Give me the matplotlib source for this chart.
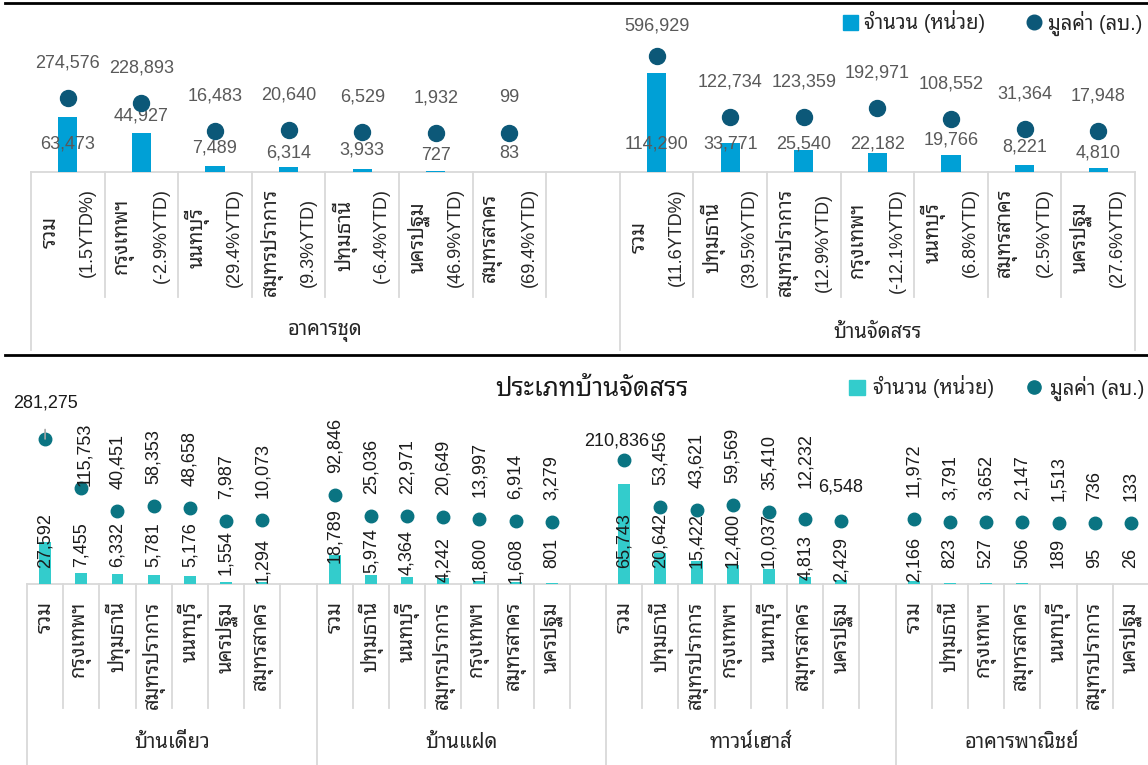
import matplotlib
matplotlib.use("Agg")
import matplotlib.pyplot as plt
from matplotlib.lines import Line2D
from matplotlib.patches import Patch

plt.rcParams["font.family"] = ["Liberation Sans", "Noto Sans Thai Looped"]

W, H = 1148, 765
PT = 0.72  # points per pixel at 100 dpi

# ---- top panel: condominiums vs housing estates ----
CONDO_NAME = "อาคารชุด"
CONDO_CATS = ["รวม", "กรุงเทพฯ", "นนทบุรี", "สมุทรปราการ", "ปทุมธานี", "นครปฐม", "สมุทรสาคร"]
CONDO_YTD = ["(1.5YTD%)", "(-2.9%YTD)", "(29.4%YTD)", "(9.3%YTD)", "(-6.4%YTD)",
             "(46.9%YTD)", "(69.4%YTD)"]
CONDO_UNITS = [63473, 44927, 7489, 6314, 3933, 727, 83]
CONDO_VALUE = [274576, 228893, 16483, 20640, 6529, 1932, 99]

HOUSING_NAME = "บ้านจัดสรร"
HOUSING_CATS = ["รวม", "ปทุมธานี", "สมุทรปราการ", "กรุงเทพฯ", "นนทบุรี", "สมุทรสาคร", "นครปฐม"]
HOUSING_YTD = ["(11.6YTD%)", "(39.5%YTD)", "(12.9%YTD)", "(-12.1%YTD)", "(6.8%YTD)",
               "(2.5%YTD)", "(27.6%YTD)"]
HOUSING_UNITS = [114290, 33771, 25540, 22182, 19766, 8221, 4810]
HOUSING_VALUE = [596929, 122734, 123359, 192971, 108552, 31364, 17948]

# ---- bottom panel: housing estate by type ----
DETACHED_NAME = "บ้านเดี่ยว"
DETACHED_CATS = ["รวม", "กรุงเทพฯ", "ปทุมธานี", "สมุทรปราการ", "นนทบุรี", "นครปฐม", "สมุทรสาคร"]
DETACHED_UNITS = [27592, 7455, 6332, 5781, 5176, 1554, 1294]
DETACHED_VALUE = [281275, 115753, 40451, 58353, 48658, 7987, 10073]

SEMI_NAME = "บ้านแฝด"
SEMI_CATS = ["รวม", "ปทุมธานี", "นนทบุรี", "สมุทรปราการ", "กรุงเทพฯ", "สมุทรสาคร", "นครปฐม"]
SEMI_UNITS = [18789, 5974, 4364, 4242, 1800, 1608, 801]
SEMI_VALUE = [92846, 25036, 22971, 20649, 13997, 6914, 3279]

TOWN_NAME = "ทาวน์เฮาส์"
TOWN_CATS = ["รวม", "ปทุมธานี", "สมุทรปราการ", "กรุงเทพฯ", "นนทบุรี", "สมุทรสาคร", "นครปฐม"]
TOWN_UNITS = [65743, 20642, 15422, 12400, 10037, 4813, 2429]
TOWN_VALUE = [210836, 53456, 43621, 59569, 35410, 12232, 6548]

SHOP_NAME = "อาคารพาณิชย์"
SHOP_CATS = ["รวม", "ปทุมธานี", "กรุงเทพฯ", "สมุทรสาคร", "นนทบุรี", "สมุทรปราการ", "นครปฐม"]
SHOP_UNITS = [2166, 823, 527, 506, 189, 95, 26]
SHOP_VALUE = [11972, 3791, 3652, 2147, 1513, 736, 133]

UNITS_LABEL = "จำนวน (หน่วย)"
VALUE_LABEL = "มูลค่า (ลบ.)"
BOTTOM_TITLE = "ประเภทบ้านจัดสรร"

# label placement (pixels)
TOP_UNIT_LIFT = [[28, 56, 24, 19, 22, 16, 19], [28, 28, 28, 28, 32, 25, 19]]
TOP_VALUE_GAP = [[35] * 7, [30, 35, 35, 35, 35, 35, 35]]
BOTTOM_UNIT_LIFT = [[16, 17, 17, 17, 17, 9, 1], [21, 11, 9, 2, 2, 1, 16],
                    [16, 16, 16, 16, 16, 4, 2], [2, 16, 16, 16, 16, 16, 16]]
# (group, index) -> (flat?, dx, dy, leader)
BOTTOM_VALUE_TWEAKS = {
    (0, 0): (True, 0, 36, True),
    (0, 1): (False, 3, 2, False),
    (2, 0): (True, -8, 19, False),
    (2, 5): (False, 0, 31, False),
    (2, 6): (True, -1, 34, False),
}

GRID = "#D9D9D9"
INK = "#262626"
FS = 13        # numbers and latin text
FS_THAI = 14.5  # thai category names
FS_GROUP = 14.5


def panel_axes(fig, left, top, right, bottom):
    ax = fig.add_axes([left / W, 1 - bottom / H, (right - left) / W, (bottom - top) / H])
    ax2 = ax.twinx()
    for a in (ax, ax2):
        a.set_xticks([])
        a.set_yticks([])
        for s in a.spines.values():
            s.set_visible(False)
    return ax, ax2


def slot_positions(groups):
    xs, starts = [], []
    pos = 0
    for g, cats in enumerate(groups):
        starts.append(pos)
        xs.append([pos + i + 0.5 for i in range(len(cats))])
        pos += len(cats) + (1 if g < len(groups) - 1 else 0)
    return xs, starts, pos


def category_frame(ax, groups, names, h_px, cat_bottom, group_bottom, name_drop):
    xs, starts, total = slot_positions(groups)
    ax.set_xlim(0, total)
    tr = ax.get_xaxis_transform()
    ax.plot([0, total], [0, 0], transform=tr, color=GRID, lw=1.3, clip_on=False)
    bounds = starts + [total]
    for b in range(total + 1):
        low = group_bottom if b in bounds else cat_bottom
        ax.plot([b, b], [0, -low / h_px], transform=tr, color=GRID, lw=1.3, clip_on=False)
    for g in range(len(groups)):
        ax.annotate(names[g], xy=((starts[g] + bounds[g + 1]) / 2, 0), xycoords=tr,
                    xytext=(0, -name_drop * PT), textcoords="offset points",
                    ha="center", va="center", fontsize=FS_GROUP, color=INK,
                    annotation_clip=False)
    return xs


def rotated_label(ax, x, text, size, dx, drop):
    return ax.annotate(text, xy=(x, 0), xycoords=ax.get_xaxis_transform(),
                       xytext=(dx * PT, -drop * PT), textcoords="offset points",
                       rotation=90, ha="center", va="top", fontsize=size,
                       color=INK, annotation_clip=False)


fig = plt.figure(figsize=(W / 100, H / 100), dpi=100)
renderer = fig.canvas.get_renderer()

# separators between the two panels
for y in (3, 355):
    fig.add_artist(Line2D([5 / W, 1], [1 - y / H] * 2, color="black", lw=2.0))

# ---------------- top panel ----------------
TOP_BAR, TOP_DOT = "#00A0D6", "#0C5878"
ax, ax2 = panel_axes(fig, 31, 10, 1135, 172)
xs = category_frame(ax, [CONDO_CATS, HOUSING_CATS], [CONDO_NAME, HOUSING_NAME],
                    162, 125, 178, 160)
ax.set_ylim(0, 186850)
ax2.set_ylim(-302300, 953500)

# two-column rotated labels: thai name on the left, YTD change on the right,
# centred on each other and hanging from a common top edge
for g, (cats, ytd) in enumerate([(CONDO_CATS, CONDO_YTD), (HOUSING_CATS, HOUSING_YTD)]):
    for x, c, p in zip(xs[g], cats, ytd):
        t1 = rotated_label(ax, x, c, FS_THAI, -17.5, 16)
        t2 = rotated_label(ax, x, p, FS, 19.5, 16)
        h1 = t1.get_window_extent(renderer).height
        h2 = t2.get_window_extent(renderer).height
        block = max(h1, h2)
        t1.xyann = (-17.5 * PT, -(16 + (block - h1) / 2) * PT)
        t2.xyann = (19.5 * PT, -(16 + (block - h2) / 2) * PT)

for g, (units, value) in enumerate([(CONDO_UNITS, CONDO_VALUE),
                                    (HOUSING_UNITS, HOUSING_VALUE)]):
    ax.bar(xs[g], units, width=0.26, color=TOP_BAR, zorder=2)
    ax2.plot(xs[g], value, "o", ms=11.5, color=TOP_DOT, zorder=3)
    for i, (x, u, v) in enumerate(zip(xs[g], units, value)):
        ax.annotate(f"{u:,}", xy=(x, 0), xytext=(0, TOP_UNIT_LIFT[g][i] * PT),
                    textcoords="offset points", ha="center", va="center",
                    fontsize=FS, color="#595959", zorder=4)
        ax2.annotate(f"{v:,}", xy=(x, v), xytext=(0, TOP_VALUE_GAP[g][i] * PT),
                     textcoords="offset points", ha="center", va="center",
                     fontsize=FS, color="#595959", annotation_clip=False)

top_handles = [Patch(color=TOP_BAR),
               Line2D([], [], marker="o", ls="none", ms=10.5, color=TOP_DOT)]
fig.legend(top_handles, [UNITS_LABEL, VALUE_LABEL], ncol=2, frameon=False,
           loc="center left", bbox_to_anchor=(843 / W, 1 - 23 / H), borderpad=0,
           borderaxespad=0, handlelength=0.72, handleheight=0.72, handletextpad=0.3,
           columnspacing=2.1, fontsize=FS_GROUP, labelcolor=INK)

# ---------------- bottom panel ----------------
BOT_BAR, BOT_DOT = "#33CCCC", "#0A7482"
bx, bx2 = panel_axes(fig, 27, 420, 1149, 584)
bottom_groups = [DETACHED_CATS, SEMI_CATS, TOWN_CATS, SHOP_CATS]
bxs = category_frame(bx, bottom_groups, [DETACHED_NAME, SEMI_NAME, TOWN_NAME, SHOP_NAME],
                     164, 124, 181, 159)
bx.set_ylim(0, 107900)
bx2.set_ylim(-204170, 344700)
for g, cats in enumerate(bottom_groups):
    for x, c in zip(bxs[g], cats):
        rotated_label(bx, x, c, FS_THAI, 0, 17)

bottom_data = [(DETACHED_UNITS, DETACHED_VALUE), (SEMI_UNITS, SEMI_VALUE),
               (TOWN_UNITS, TOWN_VALUE), (SHOP_UNITS, SHOP_VALUE)]
for g, (units, value) in enumerate(bottom_data):
    bx.bar(bxs[g], units, width=0.33, color=BOT_BAR, zorder=2)
    bx2.plot(bxs[g], value, "o", ms=9, color=BOT_DOT, zorder=3)
    for i, (x, u, v) in enumerate(zip(bxs[g], units, value)):
        bx.annotate(f"{u:,}", xy=(x, 0), xytext=(0, BOTTOM_UNIT_LIFT[g][i] * PT),
                    textcoords="offset points", rotation=90, ha="center", va="bottom",
                    fontsize=FS, color="#1A1A1A", zorder=4)
        flat, dx, dy, leader = BOTTOM_VALUE_TWEAKS.get((g, i), (False, 0, 22, False))
        if flat:
            arrow = None
            if leader:
                arrow = dict(arrowstyle="-", color="#A6A6A6", lw=1.2,
                             shrinkA=11, shrinkB=0)
            bx2.annotate(f"{v:,}", xy=(x, v), xytext=(dx * PT, dy * PT),
                         textcoords="offset points", ha="center", va="center",
                         fontsize=FS, color="#1A1A1A", arrowprops=arrow,
                         annotation_clip=False)
        else:
            bx2.annotate(f"{v:,}", xy=(x, v), xytext=(dx * PT, dy * PT),
                         textcoords="offset points", rotation=90, ha="center",
                         va="bottom", fontsize=FS, color="#1A1A1A",
                         annotation_clip=False)

fig.text(592 / W, 1 - 389 / H, BOTTOM_TITLE, ha="center", va="center",
         fontsize=18.5, fontweight="bold", color="#1A1A1A")
bottom_handles = [Patch(color=BOT_BAR),
                  Line2D([], [], marker="o", ls="none", ms=9.5, color=BOT_DOT)]
fig.legend(bottom_handles, [UNITS_LABEL, VALUE_LABEL], ncol=2, frameon=False,
           loc="center left", bbox_to_anchor=(849 / W, 1 - 388 / H), borderpad=0,
           borderaxespad=0, handlelength=0.78, handleheight=0.78, handletextpad=0.4,
           columnspacing=1.6, fontsize=FS_GROUP, labelcolor=INK)

fig.savefig("out.png", dpi=100)
